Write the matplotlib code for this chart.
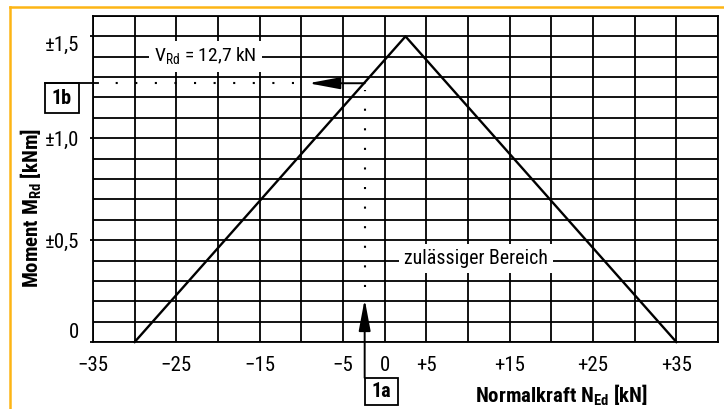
import matplotlib
matplotlib.use('Agg')
import matplotlib.pyplot as plt
from matplotlib import font_manager
from matplotlib.patches import Rectangle
import numpy as np

installed = {f.name for f in font_manager.fontManager.ttflist}
narrow = ['Liberation Sans Narrow', 'Roboto Condensed', 'Open Sans Condensed', 'Liberation Sans']
base_font = next((f for f in narrow if f in installed), 'DejaVu Sans')

plt.rcParams['font.family'] = [base_font, 'DejaVu Sans']
plt.rcParams['mathtext.fontset'] = 'custom'
plt.rcParams['mathtext.rm'] = base_font
plt.rcParams['mathtext.bf'] = base_font + ':bold'

# Interaktionsdiagramm: zulässiges Moment über der Normalkraft
normal_force = [-30, 2.5, 35]      # kN
moment = [0, 1.5, 0]               # kNm

x_tick_values = [-35, -25, -15, -5, 0, 5, 15, 25, 35]
x_tick_labels = ['\u221235', '\u221225', '\u221215', '\u22125', '0', '+5', '+15', '+25', '+35']
y_tick_values = [0, 0.5, 1.0, 1.5]
y_tick_labels = ['0', '\u00b10,5', '\u00b11,0', '\u00b11,5']

# Ablesebeispiel: N_Ed -> M_Rd
n_read = -2.4
m_read = 1.27

orange = '#FDB515'
lw = 1.3

fig = plt.figure(figsize=(7.24, 4.09), dpi=100)
ax = fig.add_axes([93 / 724, 1 - 342 / 409, 625 / 724, 326 / 409])

# orange Randlinien oben und links
fig.add_artist(plt.Line2D([10 / 724, 1], [1 - 7 / 409] * 2, transform=fig.transFigure, color=orange, lw=1.8))
fig.add_artist(plt.Line2D([10 / 724] * 2, [0, 1 - 7 / 409], transform=fig.transFigure, color=orange, lw=1.8))

ax.set_xlim(-35, 40)
ax.set_ylim(0, 1.6)
ax.set_xticks(np.arange(-35, 41, 5), minor=True)
ax.set_yticks(np.arange(0, 1.61, 0.1), minor=True)
ax.set_xticks(x_tick_values, x_tick_labels)
ax.set_yticks(y_tick_values, y_tick_labels)
ax.grid(which='both', color='black', lw=lw)
ax.set_axisbelow(True)
for s in ax.spines.values():
    s.set_linewidth(lw)
ax.tick_params(axis='x', which='both', length=0, pad=10, labelsize=15)
ax.tick_params(axis='y', which='minor', length=0)
ax.tick_params(axis='y', which='major', length=2.2, width=lw, pad=8, labelsize=15)
ylabels = ax.get_yticklabels()
ylabels[0].set_va('bottom')
ylabels[-1].set_va('top')

ax.plot(normal_force, moment, color='black', lw=1.7, clip_on=False, zorder=4)

arrow = dict(arrowstyle='-|>,head_length=1.6,head_width=0.3', color='black', lw=1.4,
             shrinkA=0, shrinkB=0, mutation_scale=12)

# von N_Ed nach oben
ax.annotate('', xy=(n_read, 0.21), xytext=(n_read, -0.176), arrowprops=arrow, annotation_clip=False)
ax.plot([n_read, n_read], [0.27, 1.235], color='black', lw=1.5, ls=(0, (1, 8.4)), zorder=4)
ax.add_patch(Rectangle((n_read, -0.31), 3.97, 0.134, fill=False, ec='black', lw=lw, clip_on=False))
ax.text(n_read + 1.98, -0.243, '1a', ha='center', va='center', fontsize=14.5, fontweight='bold', clip_on=False)

# vom Schnittpunkt nach links
ax.annotate('', xy=(-9.15, m_read), xytext=(n_read, m_read), arrowprops=arrow, annotation_clip=False)
ax.plot([-10.85, -34.4], [m_read, m_read], color='black', lw=1.5, ls=(0, (1, 8.4)), zorder=4)
ax.plot([-40.8, -34.4], [m_read, m_read], color='black', lw=lw, clip_on=False)
ax.add_patch(Rectangle((-40.8, m_read - 0.147), 4.1, 0.147, fill=False, ec='black', lw=lw, clip_on=False))
ax.text(-38.75, m_read - 0.074, '1b', ha='center', va='center', fontsize=14.5, fontweight='bold', clip_on=False)

box = dict(boxstyle='square,pad=0.25', fc='white', ec='none')
ax.text(-21.5, 1.4, 'V$_\\mathrm{Rd}$ = 12,7 kN', ha='center', va='center', fontsize=14, bbox=box, zorder=5)
ax.text(11.0, 0.41, 'zul\u00e4ssiger Bereich', ha='center', va='center', fontsize=14.3, bbox=box, zorder=5)

ax.set_xlabel('Normalkraft N$_\\mathbf{Ed}$ [kN]', fontsize=15, fontweight='bold', va='center')
ax.xaxis.set_label_coords(0.75, -0.163)
ax.set_ylabel('Moment M$_\\mathbf{Rd}$ [kNm]', fontsize=15, fontweight='bold', va='center')
ax.yaxis.set_label_coords(-0.099, 0.41)

fig.savefig('out.png', dpi=100)
